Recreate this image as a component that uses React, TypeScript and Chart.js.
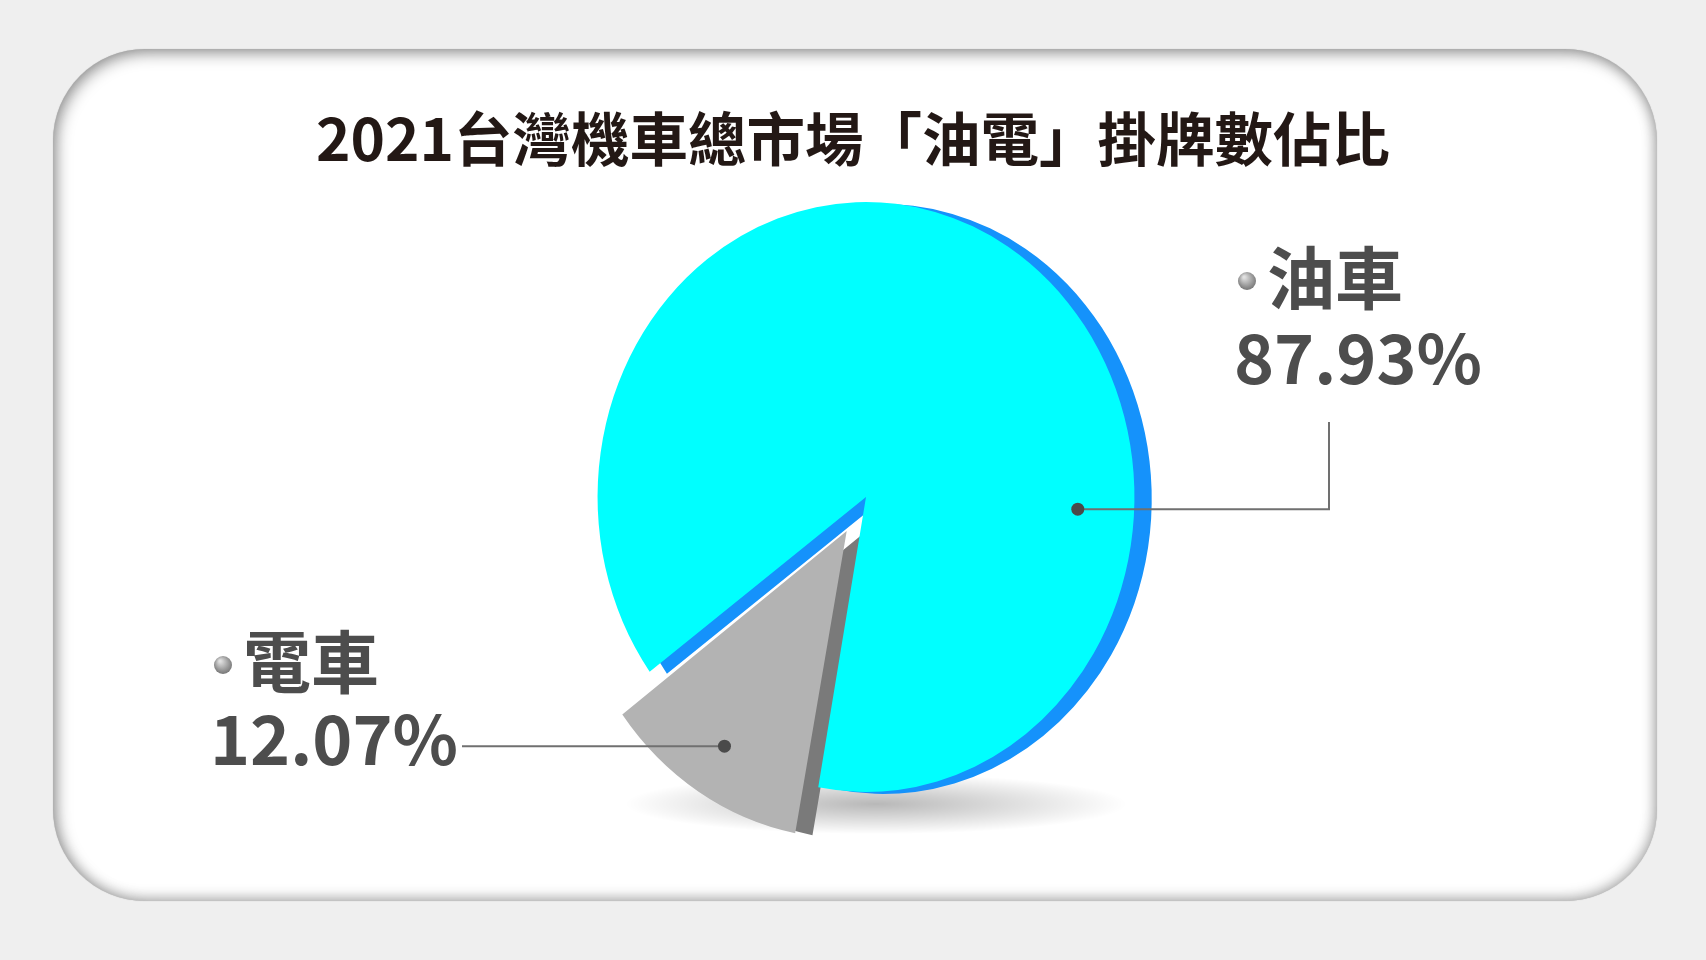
import { useEffect, useRef } from 'react';
import { Chart, ArcElement, PieController } from 'chart.js';

Chart.register(ArcElement, PieController);

// data
const categories = ['油車', '電車'];
const shares = [87.93, 12.07];
const valueLabels = ['87.93%', '12.07%'];
const faceColors = ['#00ffff', '#b3b3b3'];
const sideColors = ['#1592fb', '#7a7a7a'];
const titleText = '2021台灣機車總市場「油電」掛牌數佔比';

const W = 1706;
const H = 960;
const SQUASH = 0.91; // pie is drawn a bit narrower than tall
const DEPTH_X = 19;
const DEPTH_Y = 2;
const FONT = '"Noto Sans CJK TC", "Noto Sans", sans-serif';
const TEXT_COLOR = '#4d4d4d';

// where each callout sits (angle in degrees on the slice, or null = slice middle)
const callouts = [
  { anchorAngle: 3, anchorFrac: 0.79, elbowX: 1329, elbowY: 422, bulletX: 1247, nameY: 278, valueX: 1237, valueY: 358 },
  { anchorAngle: null, anchorFrac: 0.86, elbowX: 462, elbowY: null, bulletX: 223, nameY: 662, valueX: 213, valueY: 739 },
];

const pie3d = {
  id: 'pie3d',
  beforeDatasetsDraw(chart: any) {
    const ctx: CanvasRenderingContext2D = chart.ctx;
    const arcs = chart.getDatasetMeta(0).data as any[];
    const { x, y, outerRadius } = arcs[0].getProps(['x', 'y', 'outerRadius'], true);

    // soft ground shadow under the pie
    ctx.save();
    ctx.translate(x + 10, y + outerRadius + 12);
    ctx.scale(1, 0.12);
    const g = ctx.createRadialGradient(0, 0, 0, 0, 0, outerRadius * 0.85);
    g.addColorStop(0, 'rgba(0,0,0,0.28)');
    g.addColorStop(1, 'rgba(0,0,0,0)');
    ctx.fillStyle = g;
    ctx.beginPath();
    ctx.arc(0, 0, outerRadius * 0.85, 0, Math.PI * 2);
    ctx.fill();
    ctx.restore();

    // squash horizontally, restored in afterDatasetsDraw
    ctx.save();
    ctx.translate(x, y);
    ctx.scale(SQUASH, 1);
    ctx.translate(-x, -y);

    // side (depth) layer: same arcs, darker, shifted right
    ctx.save();
    ctx.translate(DEPTH_X, DEPTH_Y);
    arcs.forEach((arc, i) => {
      const props = arc.getProps(['x', 'y', 'startAngle', 'endAngle', 'innerRadius', 'outerRadius', 'circumference'], true);
      const side = new ArcElement({
        ...props,
        options: { ...arc.options, backgroundColor: sideColors[i], borderWidth: 0 },
      } as any);
      side.draw(ctx);
    });
    ctx.restore();
  },
  afterDatasetsDraw(chart: any) {
    chart.ctx.restore();
  },
  afterDraw(chart: any) {
    const ctx: CanvasRenderingContext2D = chart.ctx;
    const arcs = chart.getDatasetMeta(0).data as any[];

    // title
    ctx.save();
    ctx.fillStyle = '#231815';
    ctx.font = `bold 58.5px ${FONT}`;
    ctx.textAlign = 'center';
    ctx.textBaseline = 'middle';
    ctx.fillText(titleText, 853, 139);
    ctx.restore();

    arcs.forEach((arc, i) => {
      const c = callouts[i];
      const { x, y, startAngle, endAngle, outerRadius } = arc.getProps(['x', 'y', 'startAngle', 'endAngle', 'outerRadius'], true);
      const shift = (arc.options.offset || 0) / 4;
      const ang = c.anchorAngle === null ? (startAngle + endAngle) / 2 : (c.anchorAngle * Math.PI) / 180;
      const dist = (c.anchorAngle === null ? shift : 0) + c.anchorFrac * outerRadius;
      const px = x + Math.cos(ang) * dist * SQUASH;
      const py = y + Math.sin(ang) * dist;

      // leader line
      ctx.save();
      ctx.strokeStyle = '#707070';
      ctx.lineWidth = 2;
      ctx.beginPath();
      ctx.moveTo(px, py);
      ctx.lineTo(c.elbowX, py);
      if (c.elbowY !== null) ctx.lineTo(c.elbowX, c.elbowY);
      ctx.stroke();
      ctx.fillStyle = '#4a4a4a';
      ctx.beginPath();
      ctx.arc(px, py, 6.5, 0, Math.PI * 2);
      ctx.fill();

      // bullet sphere
      const bg = ctx.createRadialGradient(c.bulletX - 3, c.nameY - 1, 1, c.bulletX, c.nameY + 2, 10);
      bg.addColorStop(0, '#e0e0e0');
      bg.addColorStop(1, '#767676');
      ctx.fillStyle = bg;
      ctx.beginPath();
      ctx.arc(c.bulletX, c.nameY + 3, 9, 0, Math.PI * 2);
      ctx.fill();

      // texts
      ctx.fillStyle = TEXT_COLOR;
      ctx.textAlign = 'left';
      ctx.textBaseline = 'middle';
      ctx.font = `bold 68px ${FONT}`;
      ctx.fillText(categories[i], c.bulletX + 20, c.nameY);
      ctx.font = `bold 68px ${FONT}`;
      ctx.fillText(valueLabels[i], c.valueX - 3, c.valueY);
      ctx.restore();
    });
  },
};

export default function App() {
  const canvasRef = useRef<HTMLCanvasElement>(null);

  useEffect(() => {
    document.body.style.margin = '0';
    if (!canvasRef.current) return;
    const chart = new Chart(canvasRef.current, {
      type: 'pie',
      data: {
        labels: categories,
        datasets: [
          {
            data: shares,
            backgroundColor: faceColors,
            borderWidth: 0,
            offset: [0, 160],
          },
        ],
      },
      options: {
        responsive: true,
        maintainAspectRatio: false,
        animation: false,
        events: [],
        rotation: 233.7,
        radius: 295,
        layout: { padding: { left: 466, right: 440, top: 97, bottom: 63 } },
        plugins: {
          legend: { display: false },
          tooltip: { enabled: false },
        },
      },
      plugins: [pie3d],
    });
    return () => chart.destroy();
  }, []);

  return (
    <div style={{ position: 'fixed', left: 0, top: 0, width: W, height: H, background: '#efefef', overflow: 'hidden' }}>
      <div
        style={{
          position: 'absolute',
          left: 53,
          top: 49,
          width: 1604,
          height: 852,
          borderRadius: 92,
          background: '#ffffff',
          boxShadow: 'inset 3px 4px 16px rgba(0,0,0,0.4), inset -2px -3px 14px rgba(0,0,0,0.22), 0 0 1px rgba(0,0,0,0.25)',
        }}
      />
      <div style={{ position: 'absolute', left: 0, top: 0, width: W, height: H }}>
        <canvas ref={canvasRef} role="img" aria-label="2021台灣機車總市場油電掛牌數佔比" />
      </div>
    </div>
  );
}
